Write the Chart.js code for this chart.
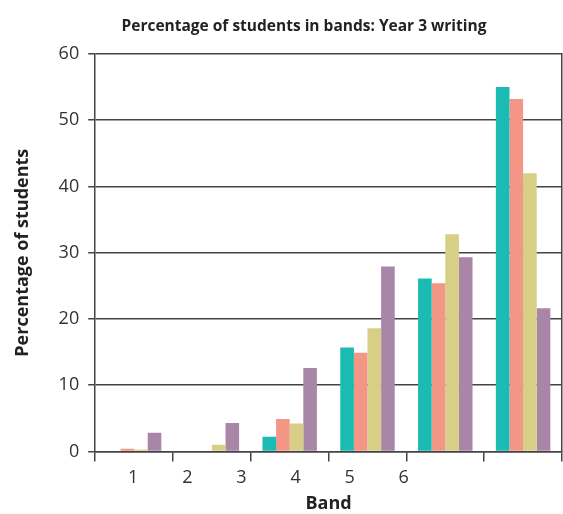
<!DOCTYPE html>
<html>
<head>
<meta charset="utf-8">
<script src="https://cdn.jsdelivr.net/npm/chart.js@4.4.1/dist/chart.umd.min.js"></script>
<style>
  html, body { margin: 0; padding: 0; background: #fff; }
  #wrap { position: relative; width: 563px; height: 514px; }
  #title {
    position: absolute; left: 0; top: 14px; width: 608px;
    text-align: center; font: bold 15.5px "Open Sans", sans-serif; color: #222;
  }
</style>
</head>
<body>
<div id="wrap">
  <div id="title">Percentage of students in bands: Year 3 writing</div>
  <canvas id="chart" width="563" height="514"></canvas>
</div>
<script>

// ======================
// DATA
// ======================

const bands = ["1", "2", "3", "4", "5", "6"];

const bandTicks = [1, 2, 3, 4, 5, 6];

const yTicks = [0, 10, 20, 30, 40, 50, 60];

const seriesTeal   = [0,   0,   2.2,  15.7, 26.1, 55.0];
const seriesSalmon = [0.4, 0,   4.9,  14.9, 25.4, 53.2];
const seriesYellow = [0.3, 1.0, 4.2,  18.6, 32.8, 42.0];
const seriesPurple = [2.8, 4.3, 12.6, 27.9, 29.3, 21.6];

const font = "'Open Sans', sans-serif";
const lineCol = "#444";

// ======================
// CHART
// ======================

new Chart(
document.getElementById("chart"),
{
type: "bar",
data: {
    labels: bands,
    datasets: [
        { label: "Series 1", data: seriesTeal,   backgroundColor: "#1bbbb4" },
        { label: "Series 2", data: seriesSalmon, backgroundColor: "#f49686" },
        { label: "Series 3", data: seriesYellow, backgroundColor: "#d8cf87" },
        { label: "Series 4", data: seriesPurple, backgroundColor: "#a985a8" }
    ]
},
options: {
    responsive: false,
    animation: false,
    categoryPercentage: 0.7,
    barPercentage: 1.0,
    layout: {
        padding: { top: 54, left: 5, right: 1, bottom: 0 }
    },
    plugins: {
        legend: { display: false },
        tooltip: { enabled: false }
    },
    scales: {
        x: {
            weight: 0,
            grid: {
                offset: true,
                drawOnChartArea: false,
                tickLength: 10,
                color: lineCol,
                lineWidth: 1.5
            },
            border: { color: lineCol, width: 1.5 },
            ticks: { display: false }
        },
        x2: {
            type: "linear",
            position: "bottom",
            weight: 1,
            offset: false,
            min: 0.296,
            max: 8.926,
            afterBuildTicks: (axis) => {
                axis.ticks = bandTicks.map(v => ({ value: v }));
            },
            grid: { display: false, drawTicks: false, offset: false },
            border: { display: false },
            ticks: {
                padding: 6,
                color: "#333",
                font: { family: font, size: 18 },
                maxRotation: 0,
                callback: (v) => String(v)
            },
            title: {
                display: true,
                text: "Band",
                color: "#222",
                font: { family: font, size: 18, weight: "bold", lineHeight: 1.0 },
                padding: { top: 0, bottom: 1 }
            }
        },
        y: {
            min: 0,
            max: 60,
            afterBuildTicks: (axis) => {
                axis.ticks = yTicks.map(v => ({ value: v }));
            },
            grid: {
                color: lineCol,
                lineWidth: 1.5,
                tickLength: 7
            },
            border: { color: lineCol, width: 1.5 },
            ticks: {
                padding: 9,
                color: "#333",
                font: { family: font, size: 18 }
            },
            title: {
                display: true,
                text: "Percentage of students",
                color: "#222",
                font: { family: font, size: 18, weight: "bold" },
                padding: { top: 7, bottom: 16 }
            }
        },
        yr: {
            position: "right",
            min: 0,
            max: 60,
            grid: { display: false, drawTicks: false },
            border: { color: lineCol, width: 1.5 },
            ticks: { display: false }
        }
    }
}
}
);

</script>
</body>
</html>
